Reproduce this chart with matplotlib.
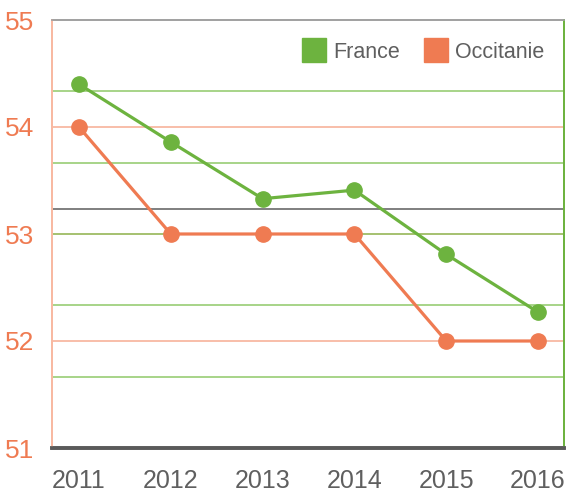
import numpy as np
import matplotlib
matplotlib.use("Agg")
import matplotlib.pyplot as plt
from matplotlib.lines import Line2D

plt.rcParams["font.family"] = ["Liberation Sans", "DejaVu Sans"]

years = [2011, 2012, 2013, 2014, 2015, 2016]
france = [54.40, 53.86, 53.33, 53.41, 52.81, 52.27]
occitanie = [54.0, 53.0, 53.0, 53.0, 52.0, 52.0]
left_ticks = [51, 52, 53, 54, 55]
right_ticks = list(np.linspace(51, 55, 7))
extra_line = 53.23

GREEN = "#6db33f"
ORANGE = "#ef7b52"
ORANGE_LIGHT = "#f8b9a2"
GRAY_TEXT = "#5f5f5f"

fig = plt.figure(figsize=(5.67, 4.93), dpi=100)
ax = fig.add_axes([52 / 567, 45 / 493, 512 / 567, 428 / 493])
ax2 = ax.twinx()

ax.set_xlim(years[0] - 0.294, years[-1] + 0.283)
ax.set_ylim(51, 55)
ax2.set_ylim(51, 55)

# grid lines
for v in left_ticks[1:-1]:
    ax.axhline(v, color=ORANGE_LIGHT, lw=1.3, zorder=1)
for v in right_ticks[1:-1]:
    ax.axhline(v, color="#86c45c", lw=1.2, zorder=1, alpha=0.85)
ax.axhline(extra_line, color="#6a6a6a", lw=1.2, zorder=1)

ax.plot(years, occitanie, color=ORANGE, lw=2.3, marker="o", ms=11, zorder=3)
ax2.plot(years, france, color=GREEN, lw=2.3, marker="o", ms=11, zorder=3)

ax.set_yticks(left_ticks)
ax.set_yticklabels([str(t) for t in left_ticks], color=ORANGE, fontsize=19)
ax.tick_params(axis="y", length=0, pad=13)
ax.set_xticks(years)
ax.set_xticklabels([str(y) for y in years], color=GRAY_TEXT, fontsize=18)
ax.tick_params(axis="x", length=0, pad=15)
ax2.set_yticks(right_ticks)
ax2.set_yticklabels([])
ax2.tick_params(axis="y", length=0)

for a in (ax, ax2):
    a.spines["top"].set_color("#a0a0a0")
    a.spines["top"].set_linewidth(1.2)
    a.spines["left"].set_color(ORANGE_LIGHT)
    a.spines["left"].set_linewidth(1.3)
    a.spines["right"].set_color(GREEN)
    a.spines["right"].set_linewidth(1.3)
    a.spines["bottom"].set_color("#5a5a5a")
    a.spines["bottom"].set_linewidth(2.6)

handles = [
    Line2D([], [], ls="", marker="s", ms=17, color=GREEN),
    Line2D([], [], ls="", marker="s", ms=17, color=ORANGE),
]
leg = ax2.legend(handles, ["France", "Occitanie"], loc="upper right",
                 bbox_to_anchor=(1.0, 0.995), ncol=2, frameon=False,
                 fontsize=15.5, handlelength=0.9, handletextpad=0.45,
                 columnspacing=1.2)
for t in leg.get_texts():
    t.set_color(GRAY_TEXT)

fig.savefig("out.png", dpi=100)
